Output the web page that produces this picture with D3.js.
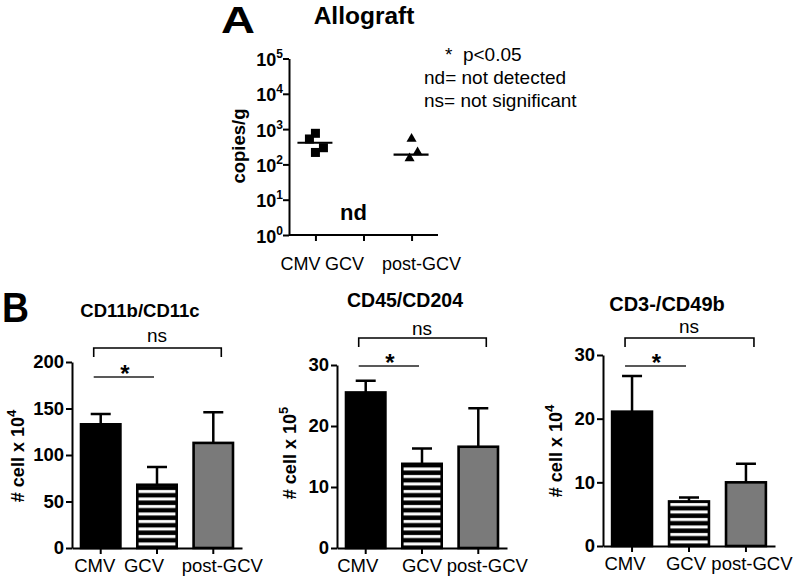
<!DOCTYPE html>
<html><head><meta charset="utf-8">
<script src="https://cdn.jsdelivr.net/npm/d3@7"></script>
<style>
body{margin:0;background:#fff}
svg{display:block}
text{font-family:"Liberation Sans",Arial,Helvetica,sans-serif;fill:#000}
</style>
</head><body>
<svg id="c" width="800" height="585"></svg>
<script>
// ---------- DATA ----------
const groups = ["CMV", "GCV", "post-GCV"];
// Panel A (copies/g, log scale)
const cmvCopies = [760, 525, 297, 218];
const postCopies = [560, 230, 157];
const medianCopies = [410, null, 190];
const logTicks = [1, 10, 100, 1000, 10000, 100000];
const legendLines = ["*  p<0.05", "nd= not detected", "ns= not significant"];
// Panel B (mean, upper SEM)
const titles = ["CD11b/CD11c", "CD45/CD204", "CD3-/CD49b"];
const exps = ["4", "5", "4"];
const cd11Means = [133, 68, 113];
const cd11Err = [11, 19, 33];
const cd11Ticks = [0, 50, 100, 150, 200];
const cd45Means = [25.5, 13.8, 16.6];
const cd45Err = [1.9, 2.5, 6.3];
const cd45Ticks = [0, 10, 20, 30];
const cd3Means = [21.1, 7.0, 10.0];
const cd3Err = [5.6, 0.6, 2.9];
const cd3Ticks = [0, 10, 20, 30];

// ---------- STYLE / LAYOUT ----------
const FONT = '"Liberation Sans",Arial,Helvetica,sans-serif';
const svg = d3.select("#c");
const defs = svg.append("defs");

// Panel letters
svg.append("text").attr("x", 221).attr("y", 33).attr("font-size", 36).attr("font-weight", "bold")
  .attr("textLength", 34).attr("lengthAdjust", "spacingAndGlyphs").text("A");
svg.append("text").attr("x", 2).attr("y", 322).attr("font-size", 43).attr("font-weight", "bold")
  .attr("textLength", 27).attr("lengthAdjust", "spacingAndGlyphs").text("B");

// ---------- PANEL A ----------
(function () {
  const left = 289, right = 438, top = 58.5, bottom = 235;
  const x = d3.scalePoint().domain(groups).range([left, right]).padding(0.55);
  const y = d3.scaleLog().domain([1, 1e5]).range([bottom, top]);
  const g = svg.append("g");

  g.append("text").attr("x", 364).attr("y", 24).attr("text-anchor", "middle")
    .attr("font-size", 24.5).attr("font-weight", "bold").text("Allograft");

  const ya = g.append("g").attr("transform", `translate(${left},0)`)
    .call(d3.axisLeft(y).tickValues(logTicks).tickSize(6).tickSizeOuter(0).tickFormat(""));
  ya.selectAll("path,line").attr("stroke", "#000").attr("stroke-width", 2);
  ya.selectAll(".tick").each(function (d) {
    const t = d3.select(this).append("text").attr("x", -6).attr("y", 7)
      .attr("text-anchor", "end").attr("font-size", 18).attr("font-weight", "bold")
      .attr("font-family", FONT);
    t.append("tspan").text("10");
    t.append("tspan").attr("font-size", 12).attr("dy", -8).text(Math.round(Math.log10(d)));
  });

  const xa = g.append("g").attr("transform", `translate(0,${bottom})`)
    .call(d3.axisBottom(x).tickSize(6).tickSizeOuter(0).tickFormat(""));
  xa.select(".domain").attr("d", `M${left},0H${right}`);
  xa.selectAll("path,line").attr("stroke", "#000").attr("stroke-width", 2);

  const labOff = [-15, -19, 10];
  groups.forEach((c, i) => {
    g.append("text").attr("x", x(c) + labOff[i]).attr("y", 270).attr("text-anchor", "middle")
      .attr("font-size", 18).text(c);
  });

  g.append("text").attr("transform", `translate(245,146) rotate(-90)`).attr("text-anchor", "middle")
    .attr("font-size", 18.5).attr("font-weight", "bold").text("copies/g");

  // points
  const cmvJit = [0, -6, 8, 0];
  const postJit = [0, 6, -2];
  g.selectAll(".sq").data(cmvCopies).join("rect")
    .attr("x", (d, i) => x("CMV") + cmvJit[i] - 4.5).attr("y", d => y(d) - 4.5)
    .attr("width", 9).attr("height", 9).attr("fill", "#000");
  const tri = d3.symbol().type(d3.symbolTriangle).size(44);
  g.selectAll(".tr").data(postCopies).join("path")
    .attr("d", tri).attr("fill", "#000")
    .attr("transform", (d, i) => `translate(${x("post-GCV") + postJit[i]},${y(d) + 0.8})`);
  groups.forEach((c, i) => {
    if (medianCopies[i] == null) return;
    g.append("line").attr("x1", x(c) - 18).attr("x2", x(c) + 17)
      .attr("y1", y(medianCopies[i])).attr("y2", y(medianCopies[i]))
      .attr("stroke", "#000").attr("stroke-width", 2.2);
  });
  g.append("text").attr("x", x("GCV") - 10).attr("y", 220).attr("text-anchor", "middle")
    .attr("font-size", 22).attr("font-weight", "bold").text("nd");

  // legend
  legendLines.forEach((s, i) => {
    g.append("text").attr("x", i === 0 ? 445 : 424).attr("y", 61 + i * 23)
      .attr("font-size", 19).style("white-space", "pre").text(s);
  });
})();

// ---------- PANEL B ----------
const charts = [
  { means: cd11Means, err: cd11Err, ticks: cd11Ticks, left: 72, right: 242, top: 362, bottom: 548,
    titleX: 140, titleY: 317, titleSize: 18.5, ylabX: 24, ylabY: 456,
    labOff: [-6, -13, 9], nsY: 348, nsTextY: 342, starY: 377, starTextY: 382 },
  { means: cd45Means, err: cd45Err, ticks: cd45Ticks, left: 337, right: 507, top: 365, bottom: 548,
    titleX: 405, titleY: 307, titleSize: 19.5, ylabX: 296, ylabY: 453,
    labOff: [-8, 0, 9], nsY: 338, nsTextY: 335, starY: 366, starTextY: 371 },
  { means: cd3Means, err: cd3Err, ticks: cd3Ticks, left: 603, right: 775, top: 355, bottom: 546,
    titleX: 667, titleY: 311, titleSize: 20, ylabX: 562, ylabY: 451,
    labOff: [-7, -3, 6], nsY: 338, nsTextY: 333, starY: 366, starTextY: 371 }
];

charts.forEach((ch, k) => {
  const g = svg.append("g");
  const x = d3.scaleBand().domain(groups).range([ch.left, ch.right]).paddingInner(0.3).paddingOuter(0.16);
  const y = d3.scaleLinear().domain([0, d3.max(ch.ticks)]).range([ch.bottom, ch.top]);

  // stripe pattern aligned to baseline
  const pid = "stripes" + k;
  const p = defs.append("pattern").attr("id", pid).attr("patternUnits", "userSpaceOnUse")
    .attr("x", 0).attr("y", ch.bottom).attr("width", 10).attr("height", 7.5);
  p.append("rect").attr("width", 10).attr("height", 7.5).attr("fill", "#000");
  p.append("rect").attr("y", 2).attr("width", 10).attr("height", 3).attr("fill", "#fff");

  const fills = ["#000", `url(#${pid})`, "#7a7a7a"];

  // error bars (upper only)
  g.selectAll(".eb").data(ch.means).join("path")
    .attr("d", (d, i) => {
      const cx = x(groups[i]) + x.bandwidth() / 2;
      const yt = y(d + ch.err[i]);
      return `M${cx},${y(d)}V${yt}M${cx - 10},${yt}H${cx + 10}`;
    })
    .attr("stroke", "#000").attr("stroke-width", 2.5).attr("fill", "none");

  // bars
  g.selectAll(".bar").data(ch.means).join("rect")
    .attr("x", (d, i) => x(groups[i])).attr("width", x.bandwidth())
    .attr("y", d => y(d)).attr("height", d => y(0) - y(d))
    .attr("fill", (d, i) => fills[i]).attr("stroke", "#000").attr("stroke-width", 2.6);

  // axes
  const ya = g.append("g").attr("transform", `translate(${ch.left},0)`)
    .call(d3.axisLeft(y).tickValues(ch.ticks).tickSize(6).tickSizeOuter(0).tickPadding(2));
  ya.selectAll("path,line").attr("stroke", "#000").attr("stroke-width", 2);
  ya.selectAll("text").attr("font-size", 18.5).attr("font-weight", "bold").attr("font-family", FONT).attr("fill", "#000");

  const xa = g.append("g").attr("transform", `translate(0,${ch.bottom})`)
    .call(d3.axisBottom(x).tickSize(6).tickSizeOuter(0));
  xa.selectAll("path,line").attr("stroke", "#000").attr("stroke-width", 2);
  xa.selectAll("text").attr("font-size", 18.5).attr("font-family", FONT).attr("fill", "#000")
    .attr("y", 24).attr("dy", 0)
    .attr("x", (d, i) => ch.labOff[i]);

  // title
  g.append("text").attr("x", ch.titleX).attr("y", ch.titleY).attr("text-anchor", "middle")
    .attr("font-size", ch.titleSize).attr("font-weight", "bold").text(titles[k]);

  // y label
  const yl = g.append("text").attr("transform", `translate(${ch.ylabX},${ch.ylabY}) rotate(-90)`)
    .attr("text-anchor", "middle").attr("font-size", 18).attr("font-weight", "bold");
  yl.append("tspan").text("# cell x 10");
  yl.append("tspan").attr("font-size", 13).attr("dy", -8).text(exps[k]);

  // significance annotations
  const c0 = x("CMV") + x.bandwidth() / 2, c1 = x("GCV") + x.bandwidth() / 2, c2 = x("post-GCV") + x.bandwidth() / 2;
  g.append("path").attr("d", `M${c0 - 7},${ch.nsY + 9}V${ch.nsY}H${c2 + 8}V${ch.nsY + 9}`)
    .attr("fill", "none").attr("stroke", "#000").attr("stroke-width", 1.6);
  g.append("text").attr("x", (c0 + c2) / 2).attr("y", ch.nsTextY).attr("text-anchor", "middle")
    .attr("font-size", 19).text("ns");
  g.append("line").attr("x1", c0 - 7).attr("x2", c1 - 3).attr("y1", ch.starY).attr("y2", ch.starY)
    .attr("stroke", "#222").attr("stroke-width", 1.4);
  g.append("text").attr("x", (c0 + c1) / 2 - 4).attr("y", ch.starTextY).attr("text-anchor", "middle")
    .attr("font-size", 24).attr("font-weight", "bold").text("*");
});
</script>
</body></html>
